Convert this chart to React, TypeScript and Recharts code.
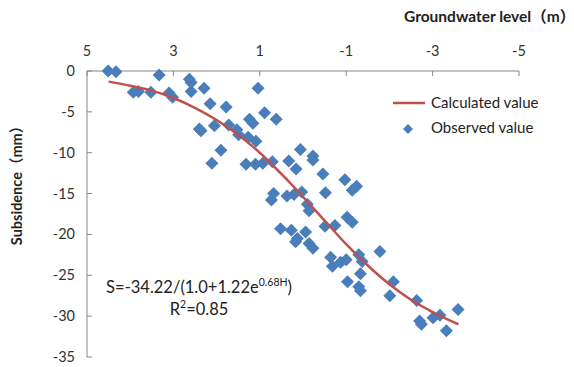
import React from 'react';
import { Scatter, ScatterChart, XAxis, YAxis } from 'recharts';

// groundwater level (m) and subsidence (mm) of the observed points
const observedLevel = [
  4.51, 4.33, 3.33, 3.93, 3.81, 3.52, 3.1, 3.02, 2.63, 2.59, 2.59, 2.29, 2.15, 1.78, 2.36, 2.4, 2.05,
  1.72, 1.9, 2.11, 1.04, 0.89, 0.62, 1.24, 1.16, 1.53, 1.49, 1.27, 1.09, 0.06, -0.23, -0.23, 0.33,
  1.32, 1.1, 0.93, 0.71, 0.16, -0.46, -0.97, -1.14, -1.24, -0.52, 0.68, 0.73, 0.37, 0.21, 0.03, -0.1,
  -0.14, -0.51, -0.74, -1.02, -1.14, 0.52, 0.27, -0.06, 0.13, 0.17, -0.14, -0.23, -0.64, -0.87, -1.0,
  -0.68, -1.29, -1.78, -1.37, -1.33, -1.03, -1.29, -1.33, -2.09, -2.01, -2.63, -2.7, -2.74, -3.01,
  -3.17, -3.32, -3.59,
];
const observedSubsidence = [
  0, -0.1, -0.5, -2.6, -2.5, -2.6, -2.7, -3.2, -1.0, -1.4, -2.5, -2.1, -4.0, -4.4, -7.3, -7.1, -6.7,
  -6.6, -9.7, -11.3, -2.1, -5.1, -5.9, -5.9, -6.4, -7.2, -7.8, -8.1, -8.6, -9.6, -10.4, -10.9, -11.0,
  -11.4, -11.4, -11.3, -11.1, -12.0, -12.6, -13.3, -14.6, -14.1, -14.9, -15.0, -15.8, -15.3, -15.1,
  -14.8, -16.3, -17.1, -19.0, -18.9, -17.9, -18.5, -19.3, -19.5, -19.7, -20.5, -20.9, -21.1, -21.7,
  -22.8, -23.4, -23.1, -23.9, -22.5, -22.1, -23.3, -24.8, -25.8, -26.4, -26.9, -25.8, -27.5, -28.1,
  -30.6, -31.0, -30.2, -29.9, -31.8, -29.2,
];

// fitted curve
const curveLevel = [4.5, 4, 3.5, 3, 2.5, 2, 1.5, 1, 0.5, 0, -0.5, -1, -1.5, -2, -2.5, -3, -3.6];
const curveSubsidence = [
  -1.3, -1.8, -2.4, -3.3, -4.5, -6.0, -7.8, -10.0, -12.6, -15.4, -18.3, -21.2, -23.8, -26.1, -28.0,
  -29.5, -31.0,
];

const xTicks = [5, 3, 1, -1, -3, -5];
const yTicks = [0, -5, -10, -15, -20, -25, -30, -35];

const observed = observedLevel.map((h, i) => ({ h, s: observedSubsidence[i] }));
const curve = curveLevel.map((h, i) => ({ h, s: curveSubsidence[i] }));

const BLUE = '#4A7EBB';
const RED = '#C0504D';
const AXIS = '#868686';
const FONT = "Lato, 'Noto Sans CJK SC', sans-serif";

const Diamond = ({ cx, cy }: any) => {
  const r = 6.5;
  return (
    <polygon
      points={`${cx},${cy - r} ${cx + r},${cy} ${cx},${cy + r} ${cx - r},${cy}`}
      fill={BLUE}
    />
  );
};

const XTick = ({ x, y, payload }: any) => (
  <g>
    <line x1={x} y1={y} x2={x} y2={y + 5} stroke={AXIS} />
    <text x={x} y={y - 15} textAnchor="middle" fontSize={14.5} fill="#333" fontFamily={FONT}>
      {payload.value}
    </text>
  </g>
);

const YTick = ({ x, y, payload }: any) => (
  <g>
    <line x1={x} y1={y} x2={x + 5} y2={y} stroke={AXIS} />
    <text x={x - 12} y={y + 5} textAnchor="end" fontSize={14.5} fill="#333" fontFamily={FONT}>
      {payload.value}
    </text>
  </g>
);

export default function App() {
  return (
    <div style={{ position: 'absolute', left: 0, top: 0, width: 574, height: 367, background: '#fff' }}>
      <ScatterChart width={574} height={367} margin={{ top: 0, right: 55, bottom: 10, left: 0 }}>
        <XAxis
          type="number"
          dataKey="h"
          orientation="top"
          reversed
          domain={[-5, 5]}
          ticks={xTicks}
          height={71}
          axisLine={{ stroke: AXIS }}
          tickLine={false}
          tickSize={0}
          tickMargin={0}
          tick={<XTick />}
        />
        <YAxis
          type="number"
          dataKey="s"
          domain={[-35, 0]}
          ticks={yTicks}
          width={87}
          axisLine={{ stroke: AXIS }}
          tickLine={false}
          tickSize={0}
          tickMargin={0}
          tick={<YTick />}
        />
        <Scatter data={observed} shape={<Diamond />} isAnimationActive={false} />
        <Scatter
          data={curve}
          line={{ stroke: RED, strokeWidth: 2.5 }}
          lineJointType="monotoneX"
          shape={() => <g />}
          isAnimationActive={false}
        />
      </ScatterChart>

      <svg
        width={574}
        height={367}
        style={{ position: 'absolute', left: 0, top: 0, pointerEvents: 'none' }}
        fontFamily={FONT}
      >
        <text x={404} y={22} fontSize={15.5} fontWeight="bold" fill="#222">
          Groundwater level（m）
        </text>
        <text
          transform="translate(22, 182) rotate(-90)"
          textAnchor="middle"
          fontSize={14.5}
          fontWeight="bold"
          fill="#222"
        >
          Subsidence（mm）
        </text>

        <line x1={393} y1={103} x2={425} y2={103} stroke={RED} strokeWidth={2.5} />
        <text x={431} y={108} fontSize={15} fill="#222">
          Calculated value
        </text>
        <polygon points="408,124 413,129 408,134 403,129" fill={BLUE} />
        <text x={431} y={133} fontSize={15} fill="#222">
          Observed value
        </text>

        <text x={199} y={293} textAnchor="middle" fontSize={16.5} fill="#222">
          S=-34.22/(1.0+1.22e
          <tspan fontSize={10.5} dy={-7}>
            0.68H
          </tspan>
          <tspan dy={7}>)</tspan>
        </text>
        <text x={199} y={315} textAnchor="middle" fontSize={16.5} fill="#222">
          R
          <tspan fontSize={10.5} dy={-7}>
            2
          </tspan>
          <tspan dy={7}>=0.85</tspan>
        </text>
      </svg>
    </div>
  );
}
